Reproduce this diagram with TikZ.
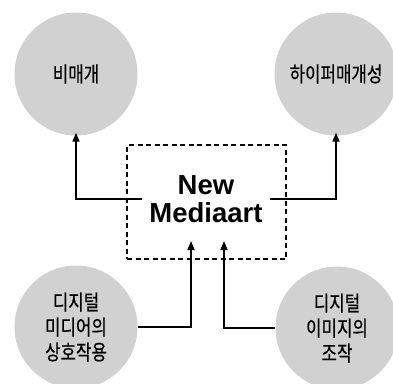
\documentclass[tikz,border=0pt]{standalone}
\usepackage{fontspec}
\setmainfont{Liberation Sans}
\newfontfamily\kr[FakeStretch=0.8,FakeBold=0.5]{Noto Sans CJK KR}
\usetikzlibrary{arrows.meta}
\begin{document}
\begin{tikzpicture}[x=1pt,y=-1pt,
  bubble/.style={circle,fill=black!18,minimum size=123pt,inner sep=0pt,align=center,font=\kr\fontsize{21}{25}\selectfont},
  frame/.style={draw,dashed,dash pattern=on 5pt off 3.5pt,line width=1.3pt,minimum width=159pt,minimum height=114pt,inner sep=0pt},
  arr/.style={line width=1.5pt,-{Triangle[length=9pt,width=7pt]}}]
\useasboundingbox (0,0) rectangle (393,383);
\node[bubble] (c1) at (76,74) {비매개};
\node[bubble] (c2) at (336,74) {하이퍼매개성};
\node[bubble] (c3) at (76,327) {디지털\\미디어의\\상호작용};
\node[bubble] (c4) at (337,328) {디지털\\이미지의\\조작};
\node[frame] (box) at (206.5,202) {};
\node[font=\bfseries\fontsize{27.5}{28}\selectfont,align=center,inner xsep=7pt] (txt) at (206,199) {New\\Mediaart};
\coordinate (t1) at (191,241);
\coordinate (t2) at (224,241);
\draw[arr] (txt.west) -| ([yshift=3pt]c1.south);
\draw[arr] (txt.east) -| ([yshift=3pt]c2.south);
\draw[arr] (c3.east) -| (t1);
\draw[arr] (c4.west) -| (t2);
\end{tikzpicture}
\end{document}
